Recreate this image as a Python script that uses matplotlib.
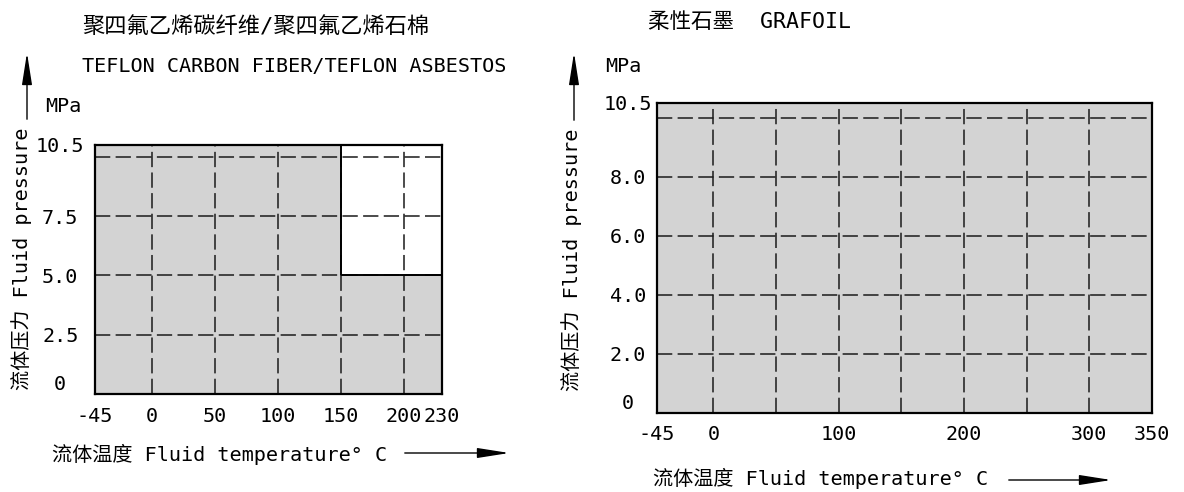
import matplotlib
matplotlib.use('Agg')
import matplotlib.pyplot as plt
from matplotlib.patches import FancyArrowPatch

# left panel: PTFE carbon fibre / PTFE asbestos
left_xticks = [-45, 0, 50, 100, 150, 200, 230]
left_xlabels = ['-45', '0', '50', '100', '150', '200', '230']
left_yticks = [0, 2.5, 5.0, 7.5, 10.5]
left_ylabels = ['0', '2.5', '5.0', '7.5', '10.5']
left_grid_x = [0, 50, 100, 150, 200]
left_grid_y = [2.5, 5.0, 7.5, 10.0]
left_temp = [-45, 150, 150, 230]      # service envelope, deg C
left_press = [10.5, 10.5, 5.0, 5.0]   # max pressure, MPa

# right panel: flexible graphite
right_xticks = [-45, 0, 100, 200, 300, 350]
right_xlabels = ['-45', '0', '100', '200', '300', '350']
right_yticks = [0, 2, 4, 6, 8, 10.5]
right_ylabels = ['0', '2.0', '4.0', '6.0', '8.0', '10.5']
right_grid_x = [0, 50, 100, 150, 200, 250, 300]
right_grid_y = [2, 4, 6, 8, 10]
right_temp = [-45, 350]
right_press = [10.5, 10.5]

title_left_cn = '聚四氟乙烯碳纤维/聚四氟乙烯石棉'
title_left_en = 'TEFLON CARBON FIBER/TEFLON ASBESTOS'
title_right = '柔性石墨  GRAFOIL'
xlab = '流体温度 Fluid temperature° C'
ylab = '流体压力 Fluid pressure'
unit = 'MPa'

plt.rcParams['font.family'] = ['DejaVu Sans Mono', 'Noto Sans CJK SC']
plt.rcParams['font.size'] = 14.5

W, H = 1184, 492
fig = plt.figure(figsize=(W / 100, H / 100), dpi=100)


def fx(x):
    return x / W


def fy(y):
    return 1 - y / H


def panel(rect, temp, press, xticks, xlabels, yticks, ylabels, gx, gy, ypad):
    ax = fig.add_axes(rect)
    ax.fill_between(temp, 0, press, color='#d3d3d3', lw=0, zorder=0)
    ax.vlines(gx, 0, 10.5, colors='#1a1a1a', linestyles=(0, (10, 3.5)), lw=1.1, zorder=1)
    ax.hlines(gy, xticks[0], xticks[-1], colors='#1a1a1a', linestyles=(0, (10, 3.5)), lw=1.1, zorder=1)
    ax.plot(temp, press, color='black', lw=1.4, zorder=2)
    ax.set_xlim(xticks[0], xticks[-1])
    ax.set_ylim(0, 10.5)
    ax.set_xticks(xticks)
    ax.set_xticklabels(xlabels)
    ax.set_yticks(yticks)
    ax.set_yticklabels(ylabels)
    ax.tick_params(length=0)
    ax.tick_params(axis='x', pad=9)
    ax.tick_params(axis='y', pad=ypad)
    for lab in ax.get_yticklabels():
        lab.set_horizontalalignment('center')
    ax.get_yticklabels()[0].set_verticalalignment('bottom')
    for s in ax.spines.values():
        s.set_linewidth(1.6)
        s.set_zorder(3)
    return ax


panel([fx(95), fy(394), fx(442) - fx(95), fy(145) - fy(394)], left_temp, left_press,
      left_xticks, left_xlabels, left_yticks, left_ylabels, left_grid_x, left_grid_y, 25)
panel([fx(657), fy(413), fx(1152) - fx(657), fy(103) - fy(413)], right_temp, right_press,
      right_xticks, right_xlabels, right_yticks, right_ylabels, right_grid_x, right_grid_y, 21)

# titles and units
fig.text(fx(82), fy(27), title_left_cn, ha='left', va='center', fontsize=16)
fig.text(fx(82), fy(66), title_left_en, ha='left', va='center')
fig.text(fx(45), fy(106), unit, ha='left', va='center')
fig.text(fx(648), fy(22), title_right, ha='left', va='center', fontsize=15.5)
fig.text(fx(605), fy(67), unit, ha='left', va='center')

# axis labels
fig.text(fx(52), fy(454), xlab, ha='left', va='center')
fig.text(fx(653), fy(478), xlab, ha='left', va='center')
fig.text(fx(22), fy(259), ylab, rotation=90, ha='center', va='center')
fig.text(fx(572), fy(260), ylab, rotation=90, ha='center', va='center')

# direction arrows
arrows = [((27, 122), (27, 50)), ((574, 123), (574, 50)),
          ((402, 453), (512, 453)), ((1006, 480), (1114, 480))]
for a, b in arrows:
    fig.add_artist(FancyArrowPatch((fx(a[0]), fy(a[1])), (fx(b[0]), fy(b[1])),
                                   transform=fig.transFigure,
                                   arrowstyle='-|>,head_length=1.4,head_width=0.22',
                                   mutation_scale=14, color='black', lw=1.0))

fig.savefig('out.png', dpi=100)
